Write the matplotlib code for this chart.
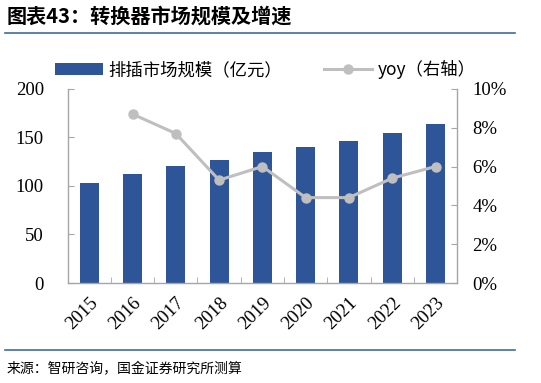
import numpy as np
import matplotlib
matplotlib.use("Agg")
import matplotlib.pyplot as plt
from matplotlib.ticker import FuncFormatter, FixedLocator


# data
years = ["2015", "2016", "2017", "2018", "2019", "2020", "2021", "2022", "2023"]
market_size = [103.5, 112, 120.5, 127, 134.5, 140.5, 146.5, 154.5, 163.5]
yoy = [np.nan, 8.7, 7.7, 5.3, 6.0, 4.4, 4.4, 5.4, 6.0]   # %

title = "图表43：转换器市场规模及增速"
source = "来源：智研咨询，国金证券研究所测算"
bar_label = "排插市场规模（亿元）"
line_label = "yoy（右轴）"

# style
BAR_COLOR = "#2E5597"
LINE_COLOR = "#BFBFBF"
AXIS_COLOR = "#A6A6A6"
RULE_COLOR = "#3C6E9E"
CJK = ["Noto Sans CJK SC", "DejaVu Sans"]
NUM = ["Liberation Serif", "DejaVu Serif"]

fig = plt.figure(figsize=(5.41, 3.83), dpi=100)
ax1 = fig.add_axes([0.125, 0.261, 0.720, 0.507])
ax2 = ax1.twinx()   # drawn on top, so the line sits over the bars

x = np.arange(len(years))
bars = ax1.bar(x, market_size, width=0.44, color=BAR_COLOR, zorder=2,
               label=bar_label)
line, = ax2.plot(x, yoy, color=LINE_COLOR, lw=2.2, marker="o", ms=6.5,
                 zorder=3, label=line_label)

ax1.set_xlim(-0.5, len(years) - 0.5)
ax1.set_ylim(0, 200)
ax1.set_yticks([0, 50, 100, 150, 200])
ax2.set_ylim(0, 10)
ax2.set_yticks([0, 2, 4, 6, 8, 10])
ax2.yaxis.set_major_formatter(FuncFormatter(lambda v, p: "{:.0f}%".format(v)))

for ax in (ax1, ax2):
    ax.spines["top"].set_visible(False)
    for s in ("left", "right", "bottom"):
        ax.spines[s].set_color(AXIS_COLOR)
        ax.spines[s].set_linewidth(1.0)

ax1.spines["right"].set_visible(False)
ax2.spines["left"].set_visible(False)
ax2.spines["bottom"].set_visible(False)

ax1.tick_params(axis="y", direction="in", length=4, color=AXIS_COLOR,
                pad=17, labelsize=13.5)
ax2.tick_params(axis="y", direction="in", length=4, color=AXIS_COLOR,
                pad=11, labelsize=13.5)
for lab in ax1.get_yticklabels() + ax2.get_yticklabels():
    lab.set_family(NUM)

# x ticks: labels at bar centres, tick marks between bars
ax1.set_xticks(x)
ax1.set_xticklabels(years, rotation=45, ha="right", va="top",
                    rotation_mode="anchor", family=NUM, fontsize=13.5)
ax1.tick_params(axis="x", which="major", length=0, pad=8)
ax1.xaxis.set_minor_locator(FixedLocator(np.arange(0.5, len(years) - 0.5, 1)))
ax1.tick_params(axis="x", which="minor", direction="in", length=4,
                color=AXIS_COLOR)

# legend
leg = fig.legend([bars, line], [bar_label, line_label], loc="center",
                 bbox_to_anchor=(0.49, 0.818), ncol=2, frameon=False,
                 prop={"family": CJK, "size": 12.5}, handlelength=2.8,
                 handletextpad=0.3, columnspacing=2.4)

# title and rules
fig.text(0.012, 0.958, title, family=CJK, fontsize=14.5, fontweight="bold",
         fontstyle="italic", va="center", ha="left")
fig.add_artist(plt.Line2D([0.009, 0.952], [0.913, 0.913], color=RULE_COLOR,
                          lw=1.2))
fig.add_artist(plt.Line2D([0.009, 0.952], [0.085, 0.085], color=RULE_COLOR,
                          lw=1.2))
fig.text(0.012, 0.037, source, family=CJK, fontsize=10, va="center",
         ha="left")

fig.savefig("out.png", dpi=100)
